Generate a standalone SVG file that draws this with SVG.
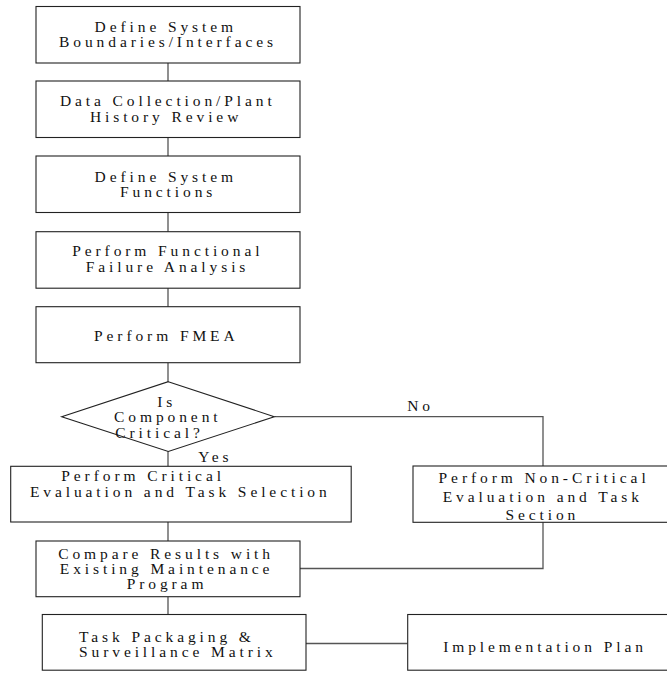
<svg xmlns="http://www.w3.org/2000/svg" width="667" height="673" viewBox="0 0 667 673">
  <style>
    .box { fill: #ffffff; stroke: #222222; stroke-width: 1.1; }
    .wire { fill: none; stroke: #555555; stroke-width: 1.3; }
    text { font-family: "Liberation Serif", "Times New Roman", serif; font-size: 15.5px; letter-spacing: 3.9px; fill: #111111; text-anchor: middle; }
    text.left { text-anchor: start; }
  </style>
  <rect width="667" height="673" fill="#ffffff"/>

  <!-- connectors -->
  <g id="connectors">
    <path class="wire" d="M168,63 V81 M168,137 V156 M168,212 V232 M168,288 V307 M168,363 V382"/>
    <path class="wire" d="M168,451 V466 M168,522 V541 M168,597 V614.5"/>
    <path class="wire" d="M274.5,416.7 H543 V466"/>
    <path class="wire" d="M543,522 V568.5 H300"/>
    <path class="wire" d="M306,643.5 H407.7"/>
  </g>

  <g id="define-boundaries">
    <rect class="box" x="36" y="6.5" width="264" height="56.5"/>
    <text x="165.8" y="32.3">Define System</text>
    <text x="168" y="47.3">Boundaries/Interfaces</text>
  </g>

  <g id="data-collection">
    <rect class="box" x="36" y="81" width="264" height="56.5"/>
    <text x="167.8" y="106.3">Data Collection/Plant</text>
    <text x="166.1" y="121.7">History Review</text>
  </g>

  <g id="define-functions">
    <rect class="box" x="36" y="156" width="264" height="56.5"/>
    <text x="165.8" y="181.7">Define System</text>
    <text x="168.1" y="196.7">Functions</text>
  </g>

  <g id="functional-failure">
    <rect class="box" x="36" y="231.7" width="264" height="56.5"/>
    <text x="167.8" y="255.7">Perform Functional</text>
    <text x="167.5" y="271.7">Failure Analysis</text>
  </g>

  <g id="fmea">
    <rect class="box" x="36" y="306.7" width="264" height="56"/>
    <text x="166.3" y="340.7">Perform FMEA</text>
  </g>

  <g id="critical-decision">
    <polygon class="box" points="168.3,381.7 274.3,416.7 168.3,451.5 61.7,416.7"/>
    <text x="166.7" y="406.7">Is</text>
    <text x="167.8" y="422.3">Component</text>
    <text x="159.5" y="437.7">Critical?</text>
    <text x="215.3" y="461.7">Yes</text>
    <text x="420.6" y="410.7">No</text>
  </g>

  <g id="critical-evaluation">
    <rect class="box" x="10.7" y="466.3" width="340.5" height="55.7"/>
    <text x="143.1" y="481.3">Perform Critical</text>
    <text x="180.3" y="497.3">Evaluation and Task Selection</text>
  </g>

  <g id="noncritical-evaluation">
    <rect class="box" x="413" y="466" width="260" height="56.3"/>
    <text x="544.1" y="482.7">Perform Non-Critical</text>
    <text x="542.8" y="501.7">Evaluation and Task</text>
    <text x="542.3" y="520">Section</text>
  </g>

  <g id="compare-results">
    <rect class="box" x="36" y="541" width="264" height="55.7"/>
    <text x="166.1" y="559">Compare Results with</text>
    <text x="166.6" y="574">Existing Maintenance</text>
    <text x="167" y="589">Program</text>
  </g>

  <g id="task-packaging">
    <rect class="box" x="42.3" y="614.5" width="263.7" height="55.7"/>
    <text class="left" x="79" y="641.7">Task Packaging &amp;</text>
    <text class="left" x="79" y="657.3">Surveillance Matrix</text>
  </g>

  <g id="implementation-plan">
    <rect class="box" x="407.7" y="614.5" width="265" height="55.7"/>
    <text x="545" y="652">Implementation Plan</text>
  </g>
</svg>
